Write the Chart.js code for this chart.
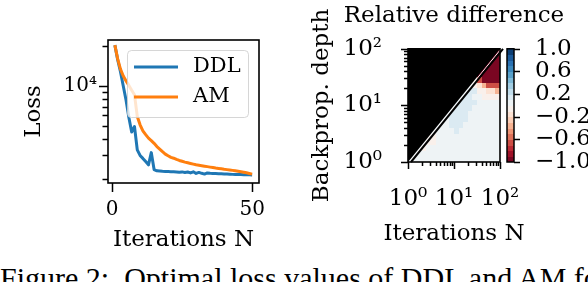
<!DOCTYPE html>
<html>
<head>
<meta charset="utf-8">
<script src="https://cdn.jsdelivr.net/npm/chart.js@4.4.0/dist/chart.umd.min.js"></script>
<style>
  html, body { margin: 0; padding: 0; background: #fff; }
  body { width: 588px; height: 282px; position: relative; overflow: hidden; }
  #loss { position: absolute; left: 0; top: 0; }
  #diff { position: absolute; left: 290px; top: 0; }
  #caption { position: absolute; left: 0; top: 263px; font: 30px/30px "Liberation Serif", serif; white-space: nowrap; color: #000; }
</style>
</head>
<body>
<canvas id="loss" width="290" height="260"></canvas>
<canvas id="diff" width="298" height="260"></canvas>
<div id="caption">Figure 2:&nbsp; Optimal loss values of DDL and AM for</div>
<script>
// ---- left panel: loss curves ----
const iterations = [1, 2, 3, 4, 5, 6, 7, 8, 9, 10, 11, 12, 13, 14, 15, 16, 17, 18, 19, 20,
  21, 22, 23, 24, 25, 26, 27, 28, 29, 30, 31, 32, 33, 34, 35, 36, 37, 38, 39, 40,
  41, 42, 43, 44, 45, 46, 47, 48, 49, 50];
const ddlLoss = [20300, 15800, 12800, 10000, 7800, 5800, 4500, 4950, 3300, 3000,
  2850, 2700, 2550, 3150, 2350, 2300, 2290, 2280, 2275, 2270,
  2265, 2260, 2255, 2240, 2255, 2230, 2250, 2215, 2260, 2195,
  2235, 2200, 2170, 2215, 2200, 2195, 2190, 2185, 2180, 2175,
  2170, 2165, 2160, 2157, 2154, 2151, 2148, 2145, 2142, 2138];
const amLoss = [20300, 16000, 13400, 11900, 10900, 10100, 9300, 8600, 5900, 5100,
  4600, 4300, 4050, 3880, 3700, 3500, 3350, 3200, 3070, 2980,
  2900, 2860, 2800, 2750, 2710, 2670, 2640, 2610, 2580, 2550,
  2530, 2510, 2490, 2470, 2450, 2430, 2410, 2395, 2380, 2360,
  2345, 2330, 2315, 2300, 2280, 2260, 2240, 2220, 2195, 2170];
const lossXTicks = [0, 50];
const lossYMajor = [10000];
const lossYMinor = [2000, 3000, 4000, 5000, 6000, 7000, 8000, 9000, 20000];

// ---- right panel: relative difference map ----
const axisMajor = [1, 10, 100];
const axisMinor = [2, 3, 4, 5, 6, 7, 8, 9, 20, 30, 40, 50, 60, 70, 80, 90];
const colorbarTicks = [-1, -0.6, -0.2, 0.2, 0.6, 1];
const contourLevels = [-1, -0.9, -0.8, -0.7, -0.6, -0.5, -0.4, -0.3, -0.2, -0.1, 0,
  0.1, 0.2, 0.3, 0.4, 0.5, 0.6, 0.7, 0.8, 0.9, 1];
const maskCorners = [[1, 1], [1, 100], [100, 100]];
// cell codes -> relative difference (x = masked, depth > N)
const cellValue = { '.': 0.05, 'b': 0.15, 'o': -0.05, 'p': -0.15, 'q': -0.35, 'r': -0.65, 'R': -0.95 };
// rows from depth 10^2 (top) down to 10^0, columns N = 10^0 .. 10^2, 0.1 decade each
const diffRows = [
  'xxxxxxxxxxxxxxxxxxxR',
  'xxxxxxxxxxxxxxxxxxRR',
  'xxxxxxxxxxxxxxxxxRRR',
  'xxxxxxxxxxxxxxxxRRRR',
  'xxxxxxxxxxxxxxxRRRRR',
  'xxxxxxxxxxxxxxorRRRR',
  'xxxxxxxxxxxxx.opqrrr',
  'xxxxxxxxxxxx.bbooppq',
  'xxxxxxxxxxx.bb..oooo',
  'xxxxxxxxxxbbbbb.....',
  'xxxxxxxxx.bbbb......',
  'xxxxxxxx.bbbb.......',
  'xxxxxxx..bbbb.......',
  'xxxxxx...bbb........',
  'xxxxx.....b.........',
  'xxxxoo..............',
  'xxx.oo..............',
  'xx.o................',
  'x...................',
  '....................'
];

const rdbuStops = ['#67001f', '#b2182b', '#d6604d', '#f4a582', '#fddbc7', '#f7f7f7',
  '#d1e5f0', '#92c5de', '#4393c3', '#2166ac', '#053061'];
const serif = '"DejaVu Serif", serif';
Chart.defaults.font.family = serif;
Chart.defaults.color = '#000';

function hex(c) { return [1, 3, 5].map(k => parseInt(c.substr(k, 2), 16)); }
function rdbu(t) {
  const p = Math.max(0, Math.min(1, t)) * 10;
  const i = Math.min(9, Math.floor(p)), f = p - i;
  const a = hex(rdbuStops[i]), b = hex(rdbuStops[i + 1]);
  const c = a.map((v, k) => Math.round(v + (b[k] - v) * f));
  return 'rgb(' + c.join(',') + ')';
}
function bandColor(v) {
  const n = contourLevels.length - 1;
  let k = 0;
  while (k < n - 1 && v >= contourLevels[k + 1]) k++;
  const mid = (contourLevels[k] + contourLevels[k + 1]) / 2;
  return rdbu((mid - contourLevels[0]) / (contourLevels[n] - contourLevels[0]));
}

function marks(ctx, scale, values, len, side) {
  ctx.beginPath();
  values.forEach(v => {
    const p = Math.round(scale.getPixelForValue(v)) + 0.5;
    if (side === 'bottom') { ctx.moveTo(p, scale.top); ctx.lineTo(p, scale.top + len); }
    if (side === 'left') { ctx.moveTo(scale.right, p); ctx.lineTo(scale.right - len, p); }
  });
  ctx.stroke();
}
function frame(ctx, a) {
  ctx.lineWidth = 1.6;
  ctx.strokeStyle = '#000';
  ctx.strokeRect(a.left, a.top, a.right - a.left, a.bottom - a.top);
}

const lossDecor = {
  id: 'lossDecor',
  afterDatasetsDraw(chart) {
    const { ctx, chartArea: a, scales } = chart;
    ctx.save();
    ctx.strokeStyle = '#000';
    ctx.lineWidth = 1.5;
    marks(ctx, scales.x, lossXTicks, 9, 'bottom');
    marks(ctx, scales.y, lossYMajor, 9, 'left');
    marks(ctx, scales.y, lossYMinor, 5.5, 'left');
    frame(ctx, a);
    // legend
    const w = 121, h = 67, x = a.right - 11 - w, y = a.top + 10;
    ctx.fillStyle = 'rgba(255,255,255,0.8)';
    ctx.strokeStyle = 'rgba(204,204,204,0.8)';
    ctx.lineWidth = 1;
    ctx.beginPath();
    ctx.roundRect(x + 0.5, y + 0.5, w, h, 4);
    ctx.fill();
    ctx.stroke();
    chart.data.datasets.forEach((ds, i) => {
      const ly = y + 17 + i * 30;
      ctx.strokeStyle = ds.borderColor;
      ctx.lineWidth = 3;
      ctx.beginPath();
      ctx.moveTo(x + 7, ly);
      ctx.lineTo(x + 51, ly);
      ctx.stroke();
      ctx.fillStyle = '#000';
      ctx.font = '21px ' + serif;
      ctx.textBaseline = 'middle';
      ctx.fillText(ds.label, x + 66, ly);
    });
    ctx.restore();
  }
};

new Chart(document.getElementById('loss'), {
  type: 'line',
  data: {
    datasets: [
      { label: 'DDL', data: iterations.map((n, i) => ({ x: n, y: ddlLoss[i] })), borderColor: '#1f77b4', order: 1 },
      { label: 'AM', data: iterations.map((n, i) => ({ x: n, y: amLoss[i] })), borderColor: '#ff7f0e', order: 0 }
    ]
  },
  options: {
    responsive: false,
    animation: false,
    devicePixelRatio: 1,
    layout: { padding: { top: 40, right: 31, left: 0, bottom: 0 } },
    elements: {
      point: { radius: 0 },
      line: { borderWidth: 3, tension: 0, borderJoinStyle: 'round', fill: false }
    },
    plugins: { legend: { display: false }, tooltip: { enabled: false } },
    scales: {
      x: {
        type: 'linear', min: -1.45, max: 52.45,
        border: { display: false },
        grid: { display: false, drawTicks: false },
        afterBuildTicks: s => { s.ticks = lossXTicks.map(v => ({ value: v })); },
        ticks: { autoSkip: false, maxRotation: 0, padding: 15, font: { size: 20 }, callback: v => String(v) },
        title: { display: true, text: 'Iterations N', font: { size: 23 }, padding: { top: 0, bottom: 6 } },
        afterFit: s => { s.height = 77; }
      },
      y: {
        type: 'logarithmic', min: 1860, max: 22200,
        border: { display: false },
        grid: { display: false, drawTicks: false },
        afterBuildTicks: s => { s.ticks = lossYMajor.concat(lossYMinor).map(v => ({ value: v })); },
        ticks: { autoSkip: false, padding: 11, font: { size: 20 }, callback: v => (v === 10000 ? '10⁴' : '') },
        title: { display: true, text: 'Loss', font: { size: 23 }, padding: { top: 20, bottom: 0 } },
        afterFit: s => { s.width = 108; }
      }
    }
  },
  plugins: [lossDecor]
});

const diffDecor = {
  id: 'diffDecor',
  beforeDatasetsDraw(chart) {
    const { ctx, chartArea: a, scales } = chart;
    const sx = scales.x, sy = scales.y;
    const nRows = diffRows.length;
    ctx.save();
    diffRows.forEach((row, r) => {
      const j = nRows - 1 - r;
      [...row].forEach((code, i) => {
        if (!(code in cellValue)) return;
        const x0 = Math.round(sx.getPixelForValue(Math.pow(10, i / 10)));
        const x1 = Math.round(sx.getPixelForValue(Math.pow(10, (i + 1) / 10)));
        const y0 = Math.round(sy.getPixelForValue(Math.pow(10, (j + 1) / 10)));
        const y1 = Math.round(sy.getPixelForValue(Math.pow(10, j / 10)));
        ctx.fillStyle = bandColor(cellValue[code]);
        ctx.fillRect(x0, y0, x1 - x0, y1 - y0);
      });
    });
    // masked region: depth > iterations
    ctx.fillStyle = '#000';
    ctx.beginPath();
    maskCorners.forEach(([n, d], k) => {
      const px = sx.getPixelForValue(n), py = sy.getPixelForValue(d);
      k ? ctx.lineTo(px, py) : ctx.moveTo(px, py);
    });
    ctx.closePath();
    ctx.fill();
    const p0 = [sx.getPixelForValue(maskCorners[0][0]), sy.getPixelForValue(maskCorners[0][1])];
    const p1 = [sx.getPixelForValue(maskCorners[2][0]), sy.getPixelForValue(maskCorners[2][1])];
    ctx.lineWidth = 1;
    ctx.strokeStyle = '#ffffff';
    ctx.beginPath(); ctx.moveTo(p0[0] + 1.2, p0[1]); ctx.lineTo(p1[0] + 1.2, p1[1]); ctx.stroke();
    ctx.lineWidth = 2;
    ctx.strokeStyle = '#000';
    ctx.beginPath(); ctx.moveTo(p0[0] + 3, p0[1]); ctx.lineTo(p1[0] + 3, p1[1]); ctx.stroke();

    // axes ticks + frame
    ctx.lineWidth = 1.5;
    ctx.strokeStyle = '#000';
    marks(ctx, sx, axisMajor, 7, 'bottom');
    marks(ctx, sx, axisMinor, 4, 'bottom');
    marks(ctx, sy, axisMajor, 7, 'left');
    marks(ctx, sy, axisMinor, 4, 'left');
    frame(ctx, a);

    // colorbar
    const cb = scales.cb;
    const bx0 = a.right + 7, bx1 = a.right + 14;
    for (let k = 0; k < contourLevels.length - 1; k++) {
      const yTop = cb.getPixelForValue(contourLevels[k + 1]);
      const yBot = cb.getPixelForValue(contourLevels[k]);
      ctx.fillStyle = bandColor((contourLevels[k] + contourLevels[k + 1]) / 2);
      ctx.fillRect(bx0, Math.floor(yTop), bx1 - bx0, Math.ceil(yBot) - Math.floor(yTop));
    }
    ctx.lineWidth = 1.5;
    ctx.strokeRect(bx0, a.top, bx1 - bx0, a.bottom - a.top);
    ctx.beginPath();
    colorbarTicks.forEach(v => {
      const p = Math.round(cb.getPixelForValue(v)) + 0.5;
      ctx.moveTo(bx1, p); ctx.lineTo(bx1 + 6, p);
    });
    ctx.stroke();

    // title and x-axis label (wider than the axes, so drawn here)
    const cx = (a.left + a.right) / 2;
    ctx.fillStyle = '#000';
    ctx.font = '23px ' + serif;
    ctx.textAlign = 'center';
    ctx.textBaseline = 'alphabetic';
    ctx.fillText('Relative difference', cx, 21.5);
    ctx.fillText('Iterations N', cx, 240);
    ctx.restore();
  }
};

const powLabel = { 1: '10⁰', 10: '10¹', 100: '10²' };

new Chart(document.getElementById('diff'), {
  type: 'scatter',
  data: { datasets: [{ data: [] }] },
  options: {
    responsive: false,
    animation: false,
    devicePixelRatio: 1,
    layout: { padding: { top: 38, right: 0, left: 0, bottom: 0 } },
    plugins: { legend: { display: false }, tooltip: { enabled: false } },
    scales: {
      x: {
        type: 'logarithmic', min: 1, max: 100,
        border: { display: false },
        grid: { display: false, drawTicks: false },
        afterBuildTicks: s => { s.ticks = axisMajor.map(v => ({ value: v })); },
        ticks: { autoSkip: false, maxRotation: 0, padding: 23, font: { size: 23 }, callback: v => powLabel[v] || '' },
        afterFit: s => { s.height = 98; }
      },
      y: {
        type: 'logarithmic', min: 1, max: 100,
        border: { display: false },
        grid: { display: false, drawTicks: false },
        afterBuildTicks: s => { s.ticks = axisMajor.map(v => ({ value: v })); },
        ticks: { autoSkip: false, padding: 26, font: { size: 23 }, callback: v => powLabel[v] || '' },
        title: { display: true, text: 'Backprop. depth', font: { size: 23 }, padding: { top: 18, bottom: 0 } },
        afterFit: s => { s.width = 118; }
      },
      cb: {
        type: 'linear', position: 'right', min: -1, max: 1,
        border: { display: false },
        grid: { display: false, drawTicks: false },
        afterBuildTicks: s => { s.ticks = colorbarTicks.map(v => ({ value: v })); },
        ticks: { autoSkip: false, padding: 35, font: { size: 23 },
          callback: v => (v < 0 ? '\u2212' : '') + Math.abs(v).toFixed(1) },
        afterFit: s => { s.width = 88; }
      }
    }
  },
  plugins: [diffDecor]
});
</script>
</body>
</html>
